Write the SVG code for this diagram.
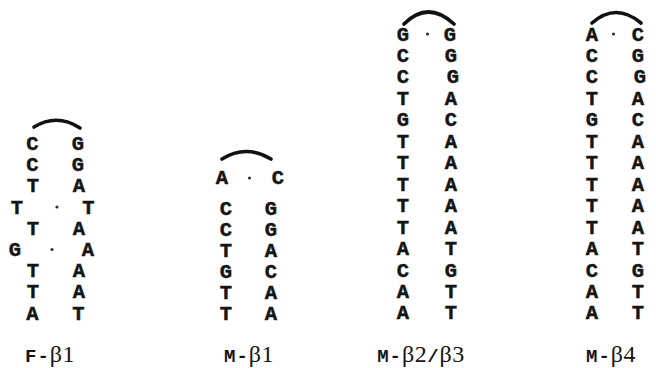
<svg xmlns="http://www.w3.org/2000/svg" width="656" height="368" viewBox="0 0 656 368">
<style>
.b{font-family:"Liberation Mono","DejaVu Sans Mono",monospace;font-weight:bold;font-size:20.5px;fill:#151515;stroke:#151515;stroke-width:0.45;text-anchor:middle}
.lab{font-family:"Liberation Mono",monospace;font-weight:bold;font-size:19px;fill:#151515;text-anchor:middle;letter-spacing:1px}
.gr{font-family:"Liberation Serif",serif;font-weight:normal;font-size:24px;letter-spacing:0.5px}
.arc{fill:none;stroke:#111;stroke-width:3.6;stroke-linecap:round}
.dot{fill:#333}
</style>
<rect width="656" height="368" fill="#fff"/>
<g id="connectors">
<path class="arc" d="M34 127 Q57 113 80 128"/>
<path class="arc" d="M222 159 Q246 144 271 159"/>
<path class="arc" d="M404 24 Q428 0 454 24"/>
<path class="arc" d="M592 23 Q616 2 641 23"/>
</g>
<g id="F-beta1">
<text class="b" x="32.5" y="150">C</text><text class="b" x="78" y="150">G</text>
<text class="b" x="32.5" y="171">C</text><text class="b" x="78" y="171">G</text>
<text class="b" x="33" y="192">T</text><text class="b" x="79" y="192">A</text>
<text class="b" x="17" y="213.5">T</text><circle class="dot" cx="57" cy="207" r="1.6"/><text class="b" x="88.5" y="213.5">T</text>
<text class="b" x="33" y="234.5">T</text><text class="b" x="79" y="234.5">A</text>
<text class="b" x="15" y="256">G</text><circle class="dot" cx="52" cy="249.5" r="1.6"/><text class="b" x="88" y="256">A</text>
<text class="b" x="33" y="277">T</text><text class="b" x="79" y="277">A</text>
<text class="b" x="33" y="298">T</text><text class="b" x="79" y="298">A</text>
<text class="b" x="32.5" y="319.5">A</text><text class="b" x="78.5" y="319.5">T</text>
<text class="lab" x="50" y="362">F-<tspan class="gr">β1</tspan></text>
</g>
<g id="M-beta1">
<text class="b" x="222" y="183.5">A</text><circle class="dot" cx="249.5" cy="178" r="1.6"/><text class="b" x="278" y="183.5">C</text>
<text class="b" x="226" y="214.5">C</text><text class="b" x="271" y="214.5">G</text>
<text class="b" x="226" y="235.5">C</text><text class="b" x="271" y="235.5">G</text>
<text class="b" x="226" y="256.5">T</text><text class="b" x="271" y="256.5">A</text>
<text class="b" x="226" y="277.5">G</text><text class="b" x="271" y="277.5">C</text>
<text class="b" x="226" y="298.5">T</text><text class="b" x="271" y="298.5">A</text>
<text class="b" x="226" y="319.5">T</text><text class="b" x="271" y="319.5">A</text>
<text class="lab" x="249" y="362">M-<tspan class="gr">β1</tspan></text>
</g>
<g id="M-beta2-beta3">
<text class="b" x="403" y="40.5">G</text><circle class="dot" cx="427.5" cy="34" r="1.6"/><text class="b" x="450" y="40.5">G</text>
<text class="b" x="403" y="62">C</text><text class="b" x="451" y="62">G</text>
<text class="b" x="403" y="83.4">C</text><text class="b" x="453" y="83.4">G</text>
<text class="b" x="403" y="104.9">T</text><text class="b" x="451" y="104.9">A</text>
<text class="b" x="403" y="126.3">G</text><text class="b" x="451" y="126.3">C</text>
<text class="b" x="403" y="147.8">T</text><text class="b" x="451" y="147.8">A</text>
<text class="b" x="403" y="169.2">T</text><text class="b" x="451" y="169.2">A</text>
<text class="b" x="403" y="190.7">T</text><text class="b" x="451" y="190.7">A</text>
<text class="b" x="403" y="212.1">T</text><text class="b" x="451" y="212.1">A</text>
<text class="b" x="403" y="233.6">T</text><text class="b" x="451" y="233.6">A</text>
<text class="b" x="403" y="255">A</text><text class="b" x="451" y="255">T</text>
<text class="b" x="403" y="276.5">C</text><text class="b" x="451" y="276.5">G</text>
<text class="b" x="403" y="297.9">A</text><text class="b" x="451" y="297.9">T</text>
<text class="b" x="403" y="319.4">A</text><text class="b" x="451" y="319.4">T</text>
<text class="lab" x="421" y="362">M-<tspan class="gr">β2</tspan>/<tspan class="gr">β3</tspan></text>
</g>
<g id="M-beta4">
<text class="b" x="592" y="40.5">A</text><circle class="dot" cx="613.5" cy="34" r="1.6"/><text class="b" x="638" y="40.5">C</text>
<text class="b" x="592" y="62">C</text><text class="b" x="638" y="62">G</text>
<text class="b" x="592" y="83.4">C</text><text class="b" x="640" y="83.4">G</text>
<text class="b" x="592" y="104.9">T</text><text class="b" x="638" y="104.9">A</text>
<text class="b" x="592" y="126.3">G</text><text class="b" x="638" y="126.3">C</text>
<text class="b" x="592" y="147.8">T</text><text class="b" x="638" y="147.8">A</text>
<text class="b" x="592" y="169.2">T</text><text class="b" x="638" y="169.2">A</text>
<text class="b" x="592" y="190.7">T</text><text class="b" x="638" y="190.7">A</text>
<text class="b" x="592" y="212.1">T</text><text class="b" x="638" y="212.1">A</text>
<text class="b" x="592" y="233.6">T</text><text class="b" x="638" y="233.6">A</text>
<text class="b" x="592" y="255">A</text><text class="b" x="638" y="255">T</text>
<text class="b" x="592" y="276.5">C</text><text class="b" x="638" y="276.5">G</text>
<text class="b" x="592" y="297.9">A</text><text class="b" x="638" y="297.9">T</text>
<text class="b" x="592" y="319.4">A</text><text class="b" x="638" y="319.4">T</text>
<text class="lab" x="611" y="362">M-<tspan class="gr">β4</tspan></text>
</g>
</svg>
